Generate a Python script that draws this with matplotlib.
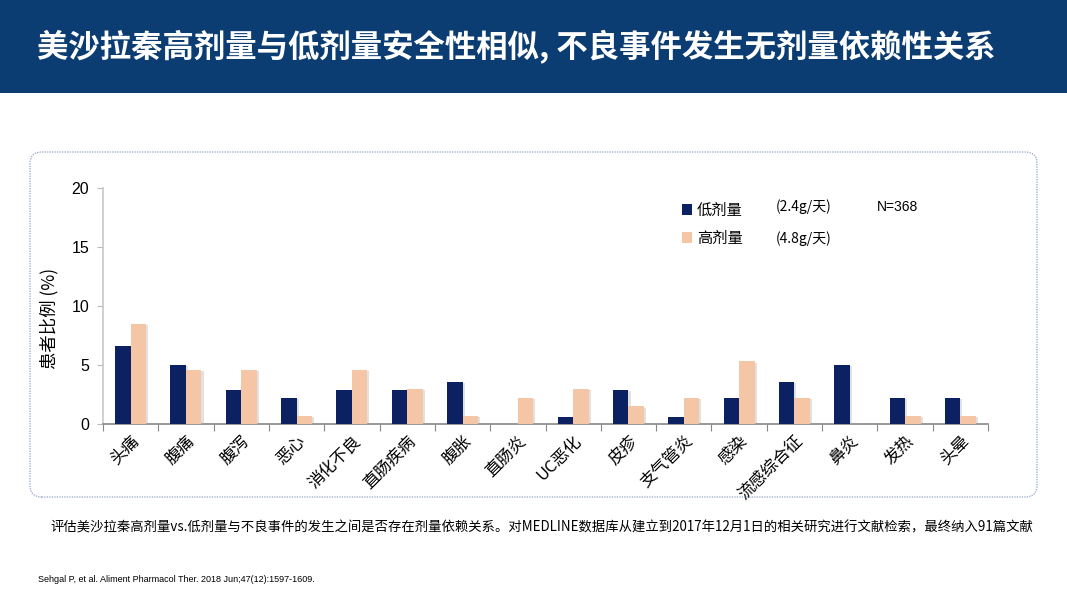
import matplotlib
matplotlib.use("Agg")
import matplotlib.pyplot as plt
import matplotlib.patheffects as pe
from matplotlib.patches import FancyBboxPatch, Rectangle
import numpy as np

plt.rcParams['font.family'] = ['Noto Sans CJK SC', 'DejaVu Sans']

categories = ["头痛", "腹痛", "腹泻", "恶心", "消化不良", "直肠疾病", "腹胀", "直肠炎",
              "UC恶化", "皮疹", "支气管炎", "感染", "流感综合征", "鼻炎", "发热", "头晕"]
low_dose = [6.6, 5.0, 2.9, 2.2, 2.9, 2.9, 3.6, 0.0, 0.6, 2.9, 0.6, 2.2, 3.6, 5.0, 2.2, 2.2]
high_dose = [8.5, 4.6, 4.6, 0.7, 4.6, 3.0, 0.7, 2.2, 3.0, 1.5, 2.2, 5.3, 2.2, 0.0, 0.7, 0.7]
yticks = [0, 5, 10, 15, 20]

NAVY = "#0B2161"
PEACH = "#F5C6A6"

fig = plt.figure(figsize=(10.67, 6.0), dpi=100)
W, H = 1067, 600

def fx(x): return x / W
def fy(y): return 1 - y / H

# Banner
fig.patches.append(Rectangle((0, fy(93)), 1, 93 / H, transform=fig.transFigure,
                             facecolor="#0B3C72", edgecolor="none", zorder=0))
fig.text(fx(37), fy(47), "美沙拉秦高剂量与低剂量安全性相似, 不良事件发生无剂量依赖性关系",
         color="white", fontsize=22.6, fontweight="bold", va="center", ha="left")

# Dotted rounded box
box = FancyBboxPatch((fx(30), fy(497)), fx(1037 - 30), (497 - 152) / H,
                     boxstyle="round,pad=0,rounding_size=0.011",
                     transform=fig.transFigure, facecolor="none",
                     edgecolor="#8EA3C6", linestyle=(0, (1, 1)), linewidth=0.9,
                     mutation_aspect=W / H)
fig.patches.append(box)

ax = fig.add_axes([fx(103), fy(424), fx(988 - 103), (424 - 188) / H])
x = np.arange(len(categories))
bw = 0.28
shadow = [pe.SimplePatchShadow(offset=(1.5, -1), shadow_rgbFace="#aaaaaa", alpha=0.35), pe.Normal()]
b1 = ax.bar(x - bw / 2, low_dose, bw, color=NAVY, zorder=3)
b2 = ax.bar(x + bw / 2, high_dose, bw, color=PEACH, zorder=3)
for b in list(b1) + list(b2):
    b.set_path_effects(shadow)

ax.set_xlim(-0.5, len(categories) - 0.5)
ax.set_ylim(0, 20)
ax.set_yticks(yticks)
ax.set_yticklabels([str(v) for v in yticks], fontsize=11.5,
                   family=["Liberation Sans", "DejaVu Sans"])
ax.set_xticks(np.arange(len(categories) + 1) - 0.5, minor=False)
ax.set_xticklabels([])
ax.set_xticks(x, minor=True)
ax.set_xticklabels(categories, minor=True, rotation=45, ha="right", va="top",
                   rotation_mode="anchor", fontsize=12)
ax.tick_params(axis="x", which="minor", length=0, pad=6)
ax.tick_params(axis="x", which="major", length=5, color="#888888", direction="out")
ax.tick_params(axis="y", length=4, color="#bbbbbb", pad=6)
for s in ["top", "right"]:
    ax.spines[s].set_visible(False)
ax.spines["left"].set_color("#c8c8c8")
ax.spines["left"].set_linewidth(1.2)
ax.spines["bottom"].set_color("#888888")
ax.spines["bottom"].set_linewidth(1.2)
ax.set_facecolor("none")

fig.text(fx(49), fy(318), "患者比例 (%)", rotation=90, fontsize=12.5, ha="center", va="center")

# Legend
fig.patches.append(Rectangle((fx(682), fy(215)), 10 / W, 11 / H, transform=fig.transFigure,
                             facecolor=NAVY, edgecolor="none"))
fig.patches.append(Rectangle((fx(682), fy(243)), 10 / W, 11 / H, transform=fig.transFigure,
                             facecolor=PEACH, edgecolor="none"))
fig.text(fx(697), fy(210), "低剂量", fontsize=11, va="center")
fig.text(fx(697), fy(238), "高剂量", fontsize=11, va="center")
fig.text(fx(776), fy(207), "(2.4g/天)", fontsize=10, va="center")
fig.text(fx(776), fy(239), "(4.8g/天)", fontsize=10, va="center")
fig.text(fx(877), fy(207), "N=368", fontsize=10, va="center",
         family=["Liberation Sans", "DejaVu Sans"])

fig.text(fx(50), fy(527),
         "评估美沙拉秦高剂量vs.低剂量与不良事件的发生之间是否存在剂量依赖关系。对MEDLINE数据库从建立到2017年12月1日的相关研究进行文献检索，最终纳入91篇文献",
         fontsize=9.6, va="center", ha="left")
fig.text(fx(38), fy(580), "Sehgal P, et al. Aliment Pharmacol Ther. 2018 Jun;47(12):1597-1609.",
         fontsize=6.5, va="center", ha="left", family=["Liberation Sans", "DejaVu Sans"])

fig.savefig("out.png", dpi=100)
